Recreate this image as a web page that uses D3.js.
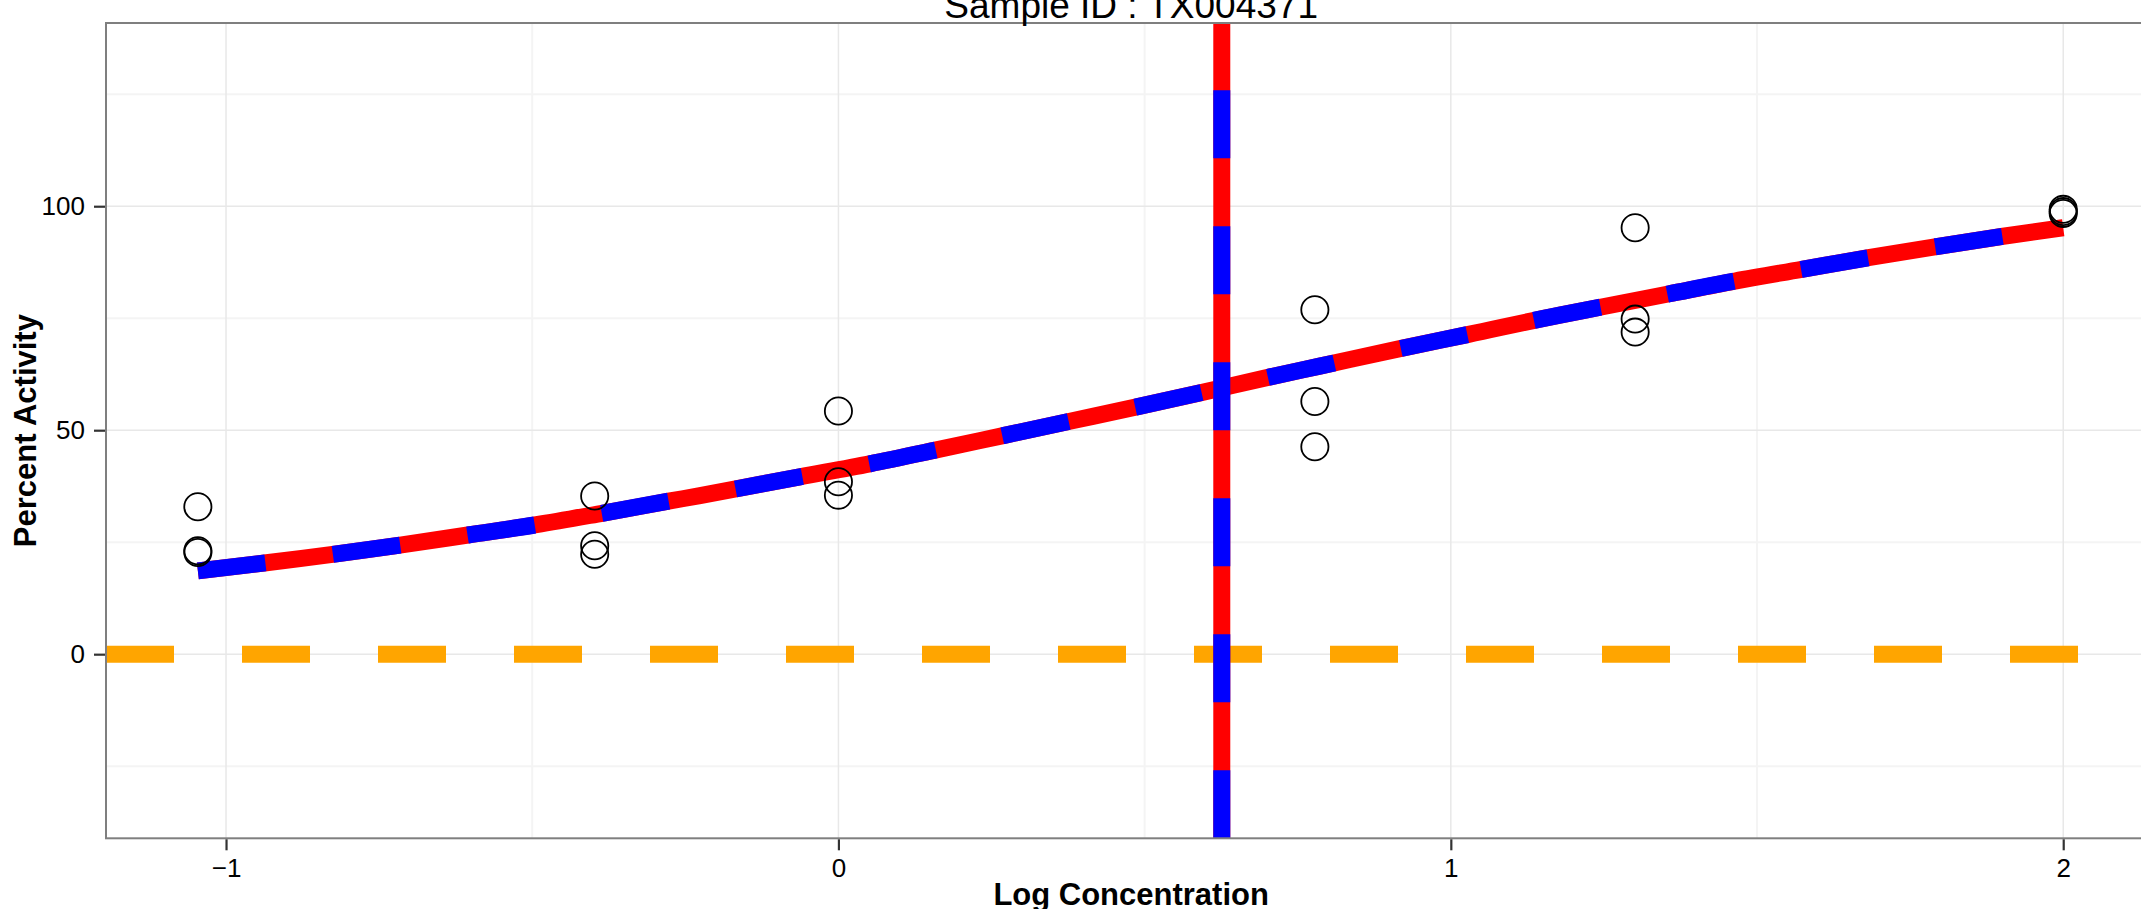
<!DOCTYPE html>
<html>
<head>
<meta charset="utf-8">
<script src="https://cdn.jsdelivr.net/npm/d3@7"></script>
<style>
  html, body { margin: 0; padding: 0; background: #fff; overflow: hidden; }
  svg { display: block; font-family: "Liberation Sans", Arial, Helvetica, sans-serif; }
</style>
</head>
<body>
<svg id="chart" width="2141" height="909"></svg>
<script>
// ---- data ----
const title = "Sample ID : TX004371";
const xLabel = "Log Concentration";
const yLabel = "Percent Activity";

const pointLogConc = [-1.046, -1.046, -1.046, -0.398, -0.398, -0.398, 0, 0, 0,
                      0.778, 0.778, 0.778, 1.301, 1.301, 1.301, 2, 2, 2];
const pointActivity = [32.9, 23.1, 22.7, 35.3, 24.2, 22.3, 54.3, 38.5, 35.5,
                       76.9, 56.4, 46.3, 95.2, 74.8, 71.9, 99.3, 98.8, 98.4];

const fitLogConc = [-1.046, -0.934, -0.713, -0.605, -0.493, -0.384, -0.275, -0.226,
                    -0.063, 0.051, 0.160, 0.269, 0.378, 0.487, 0.596, 0.705, 0.786,
                    0.917, 1.029, 1.178, 1.246, 1.355, 1.464, 1.573, 1.682, 1.793, 1.902, 2.0];
const fitActivity = [18.6, 20.4, 24.4, 26.6, 28.9, 31.5, 34.2, 35.4,
                     39.6, 42.5, 45.6, 48.8, 52.0, 55.2, 58.5, 61.9, 64.3,
                     68.2, 71.4, 75.7, 77.5, 80.4, 83.3, 85.9, 88.5, 91.0, 93.3, 95.2];

const ac50Log = 0.626;
const baselineActivity = 0;

const xTicks = [-1, 0, 1, 2];
const xMinorTicks = [-0.5, 0.5, 1.5];
const yTicks = [0, 50, 100];
const yMinorTicks = [-25, 25, 75, 125];
const xDomain = [-1.196, 2.152];
const yDomain = [-41.1, 140.9];

// ---- layout ----
const panel = { left: 106, top: 23, right: 2156.3, bottom: 838.3 };
const svg = d3.select("#chart");

const x = d3.scaleLinear().domain(xDomain).range([panel.left, panel.right]);
const y = d3.scaleLinear().domain(yDomain).range([panel.bottom, panel.top]);

svg.append("defs").append("clipPath").attr("id", "panelClip")
  .append("rect")
  .attr("x", panel.left).attr("y", panel.top)
  .attr("width", panel.right - panel.left).attr("height", panel.bottom - panel.top);

// minor grid
const grid = svg.append("g");
grid.selectAll(".vminor").data(xMinorTicks).join("line")
  .attr("x1", d => x(d)).attr("x2", d => x(d))
  .attr("y1", panel.top).attr("y2", panel.bottom)
  .attr("stroke", "#F4F4F4").attr("stroke-width", 2);
grid.selectAll(".hminor").data(yMinorTicks).join("line")
  .attr("y1", d => y(d)).attr("y2", d => y(d))
  .attr("x1", panel.left).attr("x2", panel.right)
  .attr("stroke", "#F4F4F4").attr("stroke-width", 2);
// major grid
grid.selectAll(".vmajor").data(xTicks).join("line")
  .attr("x1", d => x(d)).attr("x2", d => x(d))
  .attr("y1", panel.top).attr("y2", panel.bottom)
  .attr("stroke", "#E8E8E8").attr("stroke-width", 1.5);
grid.selectAll(".hmajor").data(yTicks).join("line")
  .attr("y1", d => y(d)).attr("y2", d => y(d))
  .attr("x1", panel.left).attr("x2", panel.right)
  .attr("stroke", "#E8E8E8").attr("stroke-width", 1.5);

const plot = svg.append("g").attr("clip-path", "url(#panelClip)");

// baseline horizontal dashed orange
plot.append("line")
  .attr("x1", panel.left).attr("x2", panel.right)
  .attr("y1", y(baselineActivity)).attr("y2", y(baselineActivity))
  .attr("stroke", "#FFA500").attr("stroke-width", 17)
  .attr("stroke-dasharray", "68 68");

// fitted curve: red solid under blue dashed
const fitData = fitLogConc.map((v, i) => [v, fitActivity[i]]);
const lineGen = d3.line().x(d => x(d[0])).y(d => y(d[1])).curve(d3.curveMonotoneX);
plot.append("path").attr("d", lineGen(fitData))
  .attr("fill", "none").attr("stroke", "#FF0000").attr("stroke-width", 17);
plot.append("path").attr("d", lineGen(fitData))
  .attr("fill", "none").attr("stroke", "#0000FF").attr("stroke-width", 17)
  .attr("stroke-dasharray", "68 68");

// AC50 vertical line (drawn bottom to top)
plot.append("line")
  .attr("x1", x(ac50Log)).attr("x2", x(ac50Log))
  .attr("y1", panel.bottom).attr("y2", panel.top)
  .attr("stroke", "#FF0000").attr("stroke-width", 17);
plot.append("line")
  .attr("x1", x(ac50Log)).attr("x2", x(ac50Log))
  .attr("y1", panel.bottom).attr("y2", panel.top)
  .attr("stroke", "#0000FF").attr("stroke-width", 17)
  .attr("stroke-dasharray", "68 68");

// points
plot.selectAll("circle.pt").data(pointLogConc.map((v, i) => [v, pointActivity[i]]))
  .join("circle")
  .attr("cx", d => x(d[0])).attr("cy", d => y(d[1]))
  .attr("r", 13.6)
  .attr("fill", "none").attr("stroke", "#000").attr("stroke-width", 1.8);

// panel border
svg.append("rect")
  .attr("x", panel.left).attr("y", panel.top)
  .attr("width", panel.right - panel.left).attr("height", panel.bottom - panel.top)
  .attr("fill", "none").attr("stroke", "#7F7F7F").attr("stroke-width", 2);

// axes
const fmt = d => (d < 0 ? "\u2212" + Math.abs(d) : String(d));
const xAxis = d3.axisBottom(x).tickValues(xTicks).tickFormat(fmt).tickSize(11).tickPadding(8);
const yAxis = d3.axisLeft(y).tickValues(yTicks).tickFormat(fmt).tickSize(11).tickPadding(9);

const gx = svg.append("g").attr("transform", `translate(0,${panel.bottom + 1})`).call(xAxis);
const gy = svg.append("g").attr("transform", `translate(${panel.left - 1},0)`).call(yAxis);
[gx, gy].forEach(g => {
  g.select(".domain").remove();
  g.selectAll(".tick line").attr("stroke", "#333").attr("stroke-width", 2.2);
  g.selectAll(".tick text").attr("fill", "#000")
    .style("font-size", "26px")
    .style("font-family", "'Liberation Sans', Arial, Helvetica, sans-serif");
});

// titles
const cx = (panel.left + panel.right) / 2;
svg.append("text").attr("x", cx).attr("y", 18)
  .attr("text-anchor", "middle").style("font-size", "37px").attr("fill", "#000")
  .text(title);
svg.append("text").attr("x", cx).attr("y", 905)
  .attr("text-anchor", "middle").style("font-size", "31px").style("font-weight", "bold")
  .attr("fill", "#000").text(xLabel);
svg.append("text")
  .attr("transform", `translate(36,${(panel.top + panel.bottom) / 2}) rotate(-90)`)
  .attr("text-anchor", "middle").style("font-size", "31px").style("font-weight", "bold")
  .attr("fill", "#000").text(yLabel);
</script>
</body>
</html>
